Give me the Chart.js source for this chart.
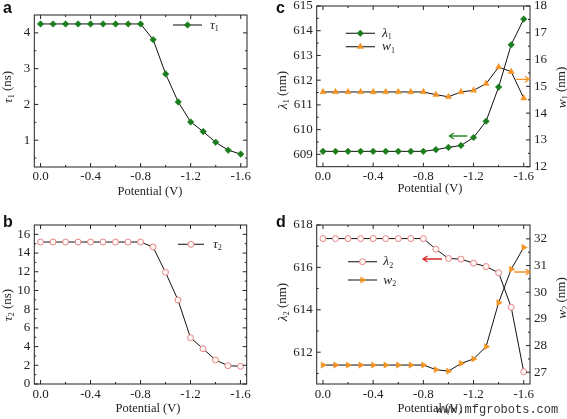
<!DOCTYPE html>
<html><head><meta charset="utf-8">
<script src="https://cdn.jsdelivr.net/npm/chart.js@4.4.1/dist/chart.umd.min.js"></script>
<style>
html,body{margin:0;padding:0;background:#fff;}
#wrap{position:relative;width:567px;height:419px;overflow:hidden;background:#fff;}
.p{position:absolute;}
canvas{display:block;}
</style></head><body>
<div id="wrap">
<div class="p" style="left:0;top:0;"><canvas id="ca" width="270" height="210" style="width:270px;height:210px"></canvas></div>
<div class="p" style="left:270px;top:0;"><canvas id="cc" width="297" height="210" style="width:297px;height:210px"></canvas></div>
<div class="p" style="left:0;top:210px;"><canvas id="cb" width="270" height="209" style="width:270px;height:209px"></canvas></div>
<div class="p" style="left:270px;top:210px;"><canvas id="cd" width="297" height="209" style="width:297px;height:209px"></canvas></div>
</div>
<script>
// ---------- data ----------
const potential = [0,-0.1,-0.2,-0.3,-0.4,-0.5,-0.6,-0.7,-0.8,-0.9,-1.0,-1.1,-1.2,-1.3,-1.4,-1.5,-1.6];
const tau1 = [4.25,4.25,4.25,4.25,4.25,4.25,4.25,4.25,4.25,3.81,2.85,2.07,1.51,1.24,0.94,0.72,0.61];
const tau2 = [15.18,15.18,15.18,15.18,15.18,15.18,15.18,15.18,15.18,14.65,11.94,8.98,4.95,3.78,2.57,1.96,1.89];
const lambda1 = [609.12,609.12,609.12,609.12,609.12,609.12,609.12,609.12,609.12,609.19,609.28,609.36,609.68,610.34,611.72,613.43,614.47];
const w1 = [14.79,14.79,14.79,14.79,14.79,14.79,14.79,14.79,14.79,14.69,14.61,14.79,14.85,15.10,15.72,15.55,14.56];
const lambda2 = [617.36,617.36,617.36,617.36,617.36,617.36,617.36,617.36,617.36,616.86,616.42,616.39,616.20,616.04,615.75,614.12,611.08];
const w2 = [27.27,27.27,27.27,27.27,27.27,27.27,27.27,27.27,27.27,27.10,27.04,27.33,27.50,27.96,29.61,30.86,31.68];

const xTicks = [0,-0.4,-0.8,-1.2,-1.6];
const xMinor = [-0.2,-0.6,-1.0,-1.4];
const tau1Ticks = [1,2,3,4];
const tau1Minor = [0.5,1.5,2.5,3.5];
const tau2Ticks = [0,2,4,6,8,10,12,14,16];
const tau2Minor = [1,3,5,7,9,11,13,15];
const lambda1Ticks = [609,610,611,612,613,614,615];
const lambda1Minor = [609.5,610.5,611.5,612.5,613.5,614.5];
const w1Ticks = [12,13,14,15,16,17,18];
const w1Minor = [12.5,13.5,14.5,15.5,16.5,17.5];
const lambda2Ticks = [612,614,616,618];
const lambda2Minor = [611,613,615,617];
const w2Ticks = [27,28,29,30,31,32];
const w2Minor = [27.5,28.5,29.5,30.5,31.5];

// ---------- styles ----------
const SERIF = "'Liberation Serif','Times New Roman',serif";
const SANS = "'Liberation Sans',Arial,sans-serif";
const GREEN = '#1b7d1b', ORANGE = '#f39324', PINK = '#e58585', RED = '#d42a2a';
const TXT = '#222';

function pts(ys){ return potential.map((x,i)=>({x:x, y:ys[i]})); }

const greenDiamond = {pointStyle:'rectRot', pointRadius:3.3, pointBackgroundColor:GREEN, pointBorderColor:GREEN, pointBorderWidth:0.5};
const pinkCircle = {pointStyle:'circle', pointRadius:3, pointBackgroundColor:'#fff6f6', pointBorderColor:PINK, pointBorderWidth:1};
const orangeTri = {pointStyle:'triangle', pointRadius:3.6, pointBackgroundColor:ORANGE, pointBorderColor:ORANGE, pointBorderWidth:0.5};
const orangeTriR = Object.assign({}, orangeTri, {pointRotation:90});

function fontOf(p){ return (p.i?'italic ':'') + (p.s||13) + 'px ' + SERIF; }
function rich(ctx, parts, x, y, opts){
  opts = opts || {};
  ctx.save();
  ctx.translate(x, y);
  if (opts.rot) ctx.rotate(opts.rot);
  let total = 0;
  const ws = parts.map(p=>{ ctx.font = fontOf(p); const w = ctx.measureText(p.t).width; total += w; return w; });
  let cx = opts.left ? 0 : -total/2;
  ctx.textBaseline = 'middle'; ctx.textAlign = 'left'; ctx.fillStyle = TXT;
  parts.forEach((p,i)=>{ ctx.font = fontOf(p); ctx.fillText(p.t, cx, p.dy||0); cx += ws[i]; });
  ctx.restore();
}
function sub(sym, n, tail){ return [{t:sym,i:true,s:13.5},{t:n,s:8,dy:4},{t:tail||'',s:13}]; }

function deco(cfg){
  return {
    id:'deco',
    afterDraw(chart){
      const ctx = chart.ctx, a = chart.chartArea, S = chart.scales;
      ctx.save();
      ctx.strokeStyle = '#222'; ctx.lineWidth = 1;
      ctx.strokeRect(a.left, a.top, a.right-a.left, a.bottom-a.top);
      ctx.beginPath();
      const tx = (vals,len)=>vals.forEach(v=>{const p=S.x.getPixelForValue(v); ctx.moveTo(p,a.bottom); ctx.lineTo(p,a.bottom-len); ctx.moveTo(p,a.top); ctx.lineTo(p,a.top+len);});
      const ty = (sc,vals,len,left,right)=>vals.forEach(v=>{const p=sc.getPixelForValue(v); if(left){ctx.moveTo(a.left,p); ctx.lineTo(a.left+len,p);} if(right){ctx.moveTo(a.right,p); ctx.lineTo(a.right-len,p);}});
      tx(xTicks,4); tx(xMinor,2);
      ty(S.y,cfg.yMajor,4,true,!cfg.y2); ty(S.y,cfg.yMinor,2,true,!cfg.y2);
      if (cfg.y2){ ty(S.y2,cfg.y2Major,4,false,true); ty(S.y2,cfg.y2Minor,2,false,true); }
      ctx.stroke();
      // panel letter
      ctx.fillStyle = '#111'; ctx.font = 'bold 16px ' + SANS; ctx.textBaseline='alphabetic'; ctx.textAlign='left';
      ctx.fillText(cfg.letter[0], cfg.letter[1], cfg.letter[2]);
      // axis titles
      rich(ctx, [{t:'Potential (V)',s:12.5}], cfg.xTitle[0], cfg.xTitle[1]);
      rich(ctx, cfg.yTitle[0], cfg.yTitle[1], cfg.yTitle[2], {rot:-Math.PI/2});
      if (cfg.y2Title) rich(ctx, cfg.y2Title[0], cfg.y2Title[1], cfg.y2Title[2], {rot:-Math.PI/2});
      // legend
      cfg.legend.forEach(L=>{
        ctx.strokeStyle = '#333'; ctx.lineWidth = 1.2;
        ctx.beginPath(); ctx.moveTo(L.x1, L.y); ctx.lineTo(L.x2, L.y); ctx.stroke();
        ctx.fillStyle = L.st.pointBackgroundColor; ctx.strokeStyle = L.st.pointBorderColor; ctx.lineWidth = L.st.pointBorderWidth;
        Chart.helpers.drawPoint(ctx, {pointStyle:L.st.pointStyle, rotation:L.st.pointRotation||0, radius:L.st.pointRadius, borderWidth:L.st.pointBorderWidth}, (L.x1+L.x2)/2, L.y);
        rich(ctx, L.label, L.tx, L.y, {left:true});
      });
      // arrows
      (cfg.arrows||[]).forEach(A=>{
        ctx.strokeStyle = A.c; ctx.lineWidth = 1.3;
        ctx.beginPath(); ctx.moveTo(A.from, A.y); ctx.lineTo(A.to, A.y);
        const d = A.to < A.from ? 1 : -1;
        ctx.moveTo(A.to + d*4.5, A.y-3); ctx.lineTo(A.to, A.y); ctx.lineTo(A.to + d*4.5, A.y+3);
        ctx.stroke();
      });
      if (cfg.watermark){
        ctx.fillStyle = '#333'; ctx.font = '12px ' + "'Liberation Mono','Courier New',monospace";
        ctx.textAlign='center'; ctx.textBaseline='middle';
        ctx.fillText(cfg.watermark[0], cfg.watermark[1], cfg.watermark[2]);
      }
      ctx.restore();
    }
  };
}

function yScale(pos, min, max, ticksArr, width){
  return {
    type:'linear', position:pos, min:min, max:max,
    afterBuildTicks: s=>{ s.ticks = ticksArr.map(v=>({value:v})); },
    afterFit: s=>{ s.width = width; s.paddingTop=0; s.paddingBottom=0; s.paddingLeft=0; s.paddingRight=0; },
    ticks:{ callback:v=>String(v), font:{family:SERIF,size:13}, color:TXT, padding:4, autoSkip:false },
    grid:{ display:false, drawTicks:false }, border:{ display:false }
  };
}
function xScale(height, pad){
  return {
    type:'linear', reverse:true, min:-1.65, max:0.05,
    afterBuildTicks: s=>{ s.ticks = xTicks.map(v=>({value:v})); },
    afterFit: s=>{ s.height = height; s.paddingLeft=0; s.paddingRight=0; s.paddingTop=0; s.paddingBottom=0; },
    ticks:{ callback:v=>v.toFixed(1), font:{family:SERIF,size:13}, color:TXT, padding:pad, maxRotation:0, autoSkip:false },
    grid:{ display:false, drawTicks:false }, border:{ display:false }
  };
}
function line(data, st, axis){
  return Object.assign({data:data, borderColor:'#111', borderWidth:1, tension:0, fill:false, yAxisID:axis||'y'}, st);
}
const base = (padTop, padRight)=>({
  responsive:false, animation:false, events:[],
  layout:{ padding:{ top:padTop, right:padRight, left:0, bottom:0 } },
  plugins:{ legend:{display:false}, tooltip:{enabled:false} }
});

// ---------- panel a ----------
new Chart(document.getElementById('ca'), {
  type:'line',
  data:{ datasets:[ line(pts(tau1), greenDiamond) ] },
  options: Object.assign(base(15, 23), { scales:{ x:xScale(43,2), y:yScale('left',0.25,4.5,tau1Ticks,34.3) } }),
  plugins:[ deco({ letter:['a',3,13], yMajor:tau1Ticks, yMinor:tau1Minor,
    xTitle:[150,192], yTitle:[sub('τ','1',' (ns)'),8,87],
    legend:[{x1:173,x2:202,y:25,st:greenDiamond,label:sub('τ','1'),tx:210}] }) ]
});

// ---------- panel b ----------
new Chart(document.getElementById('cb'), {
  type:'line',
  data:{ datasets:[ line(pts(tau2), pinkCircle) ] },
  options: Object.assign(base(15, 23.3), { scales:{ x:xScale(35,3), y:yScale('left',0,17,tau2Ticks,34.3) } }),
  plugins:[ deco({ letter:['b',3,17], yMajor:tau2Ticks, yMinor:tau2Minor,
    xTitle:[148,198.5], yTitle:[sub('τ','2',' (ns)'),8,95],
    legend:[{x1:178,x2:204,y:34.3,st:pinkCircle,label:sub('τ','2'),tx:213}] }) ]
});

// ---------- panel c ----------
new Chart(document.getElementById('cc'), {
  type:'line',
  data:{ datasets:[ line(pts(lambda1), greenDiamond,'y'), line(pts(w1), orangeTri,'y2') ] },
  options: Object.assign(base(6, 0), { scales:{ x:xScale(43.3,2), y:yScale('left',608.5,615,lambda1Ticks,46.7), y2:yScale('right',12,18,w1Ticks,37) } }),
  plugins:[ deco({ letter:['c',6,13], yMajor:lambda1Ticks, yMinor:lambda1Minor, y2:true, y2Major:w1Ticks, y2Minor:w1Minor,
    xTitle:[160,188.5], yTitle:[sub('λ','1',' (nm)'),13,90], y2Title:[sub('w','1',' (nm)'),292,87.5],
    legend:[{x1:75.7,x2:105,y:33.3,st:greenDiamond,label:sub('λ','1'),tx:112},
            {x1:75.7,x2:105,y:46.7,st:orangeTri,label:sub('w','1'),tx:112}],
    arrows:[{from:197.3,to:179.3,y:136,c:'#2a8a2a'},{from:246,to:259.3,y:79.3,c:ORANGE}] }) ]
});

// ---------- panel d ----------
new Chart(document.getElementById('cd'), {
  type:'line',
  data:{ datasets:[ line(pts(lambda2), pinkCircle,'y'), line(pts(w2), orangeTriR,'y2') ] },
  options: Object.assign(base(15, 0), { scales:{ x:xScale(35,3), y:yScale('left',610.5,618,lambda2Ticks,46.7), y2:yScale('right',26.56,32.52,w2Ticks,37) } }),
  plugins:[ deco({ letter:['d',6,17], yMajor:lambda2Ticks, yMinor:lambda2Minor, y2:true, y2Major:w2Ticks, y2Minor:w2Minor,
    xTitle:[160,198.5], yTitle:[sub('λ','2',' (nm)'),13,92], y2Title:[sub('w','2',' (nm)'),292,88],
    legend:[{x1:78,x2:107,y:51.7,st:pinkCircle,label:sub('λ','2'),tx:113.3},
            {x1:78,x2:107,y:70,st:orangeTriR,label:sub('w','2'),tx:113.3}],
    arrows:[{from:172,to:153,y:49,c:RED},{from:244.3,to:260,y:62,c:ORANGE}],
    watermark:['www.mfgrobots.com',227,200] }) ]
});
</script>
</body></html>
